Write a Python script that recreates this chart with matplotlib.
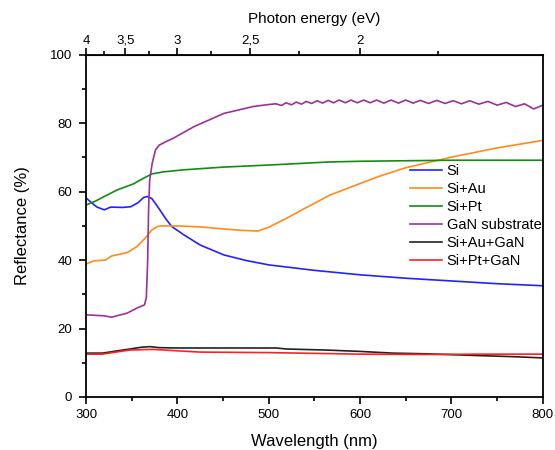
#!/usr/bin/env python3

import numpy as np
import matplotlib
matplotlib.use('Agg')
import matplotlib.pyplot as plt
from matplotlib.ticker import MultipleLocator

plt.rcParams['font.family'] = ['Liberation Sans', 'DejaVu Sans']

# Reflectance spectra (wavelength nm, reflectance %)
wl_si = [300, 305, 312, 320, 327, 340, 349, 357, 363, 367, 372, 378, 388, 394,
         407, 425, 451, 475, 500, 550, 600, 650, 700, 750, 800]
r_si = [58.2, 57.0, 55.5, 54.7, 55.5, 55.4, 55.6, 56.8, 58.3, 58.6, 58.0, 55.8,
        51.8, 49.8, 47.4, 44.4, 41.5, 39.9, 38.6, 37.0, 35.7, 34.7, 33.9, 33.1, 32.5]

wl_au = [300, 309, 321, 328, 345, 356, 365, 372, 378, 383, 400, 425, 451, 470,
         488, 500, 520, 540, 567, 600, 622, 650, 687, 700, 750, 800]
r_au = [38.9, 39.8, 40.0, 41.2, 42.2, 44.0, 46.5, 48.8, 49.8, 50.0, 50.0, 49.7,
        49.1, 48.7, 48.5, 49.6, 52.3, 55.2, 59.0, 62.4, 64.6, 67.0, 69.3, 70.1,
        72.8, 75.0]

wl_pt = [300, 310, 320, 334, 352, 362, 372, 385, 407, 451, 500, 567, 600, 700, 800]
r_pt = [56.1, 57.2, 58.6, 60.5, 62.3, 63.8, 65.2, 65.8, 66.4, 67.2, 67.8, 68.7,
        68.9, 69.2, 69.2]

wl_gan = [300, 320, 328, 345, 356, 364, 366, 367.5, 368.5, 369.7, 372.5, 376, 380,
          385, 396, 418, 451, 483, 500,
          508, 514, 519, 525, 530, 536, 541, 547, 553, 559, 565, 571, 577, 584,
          590, 597, 604, 611, 618, 626, 634, 642, 650, 658, 666, 675, 684, 693,
          702, 711, 720, 730, 740, 750, 760, 770, 780, 790, 800]
r_gan = [24.0, 23.7, 23.3, 24.5, 26.0, 26.9, 29.0, 40.0, 55.0, 63.4, 68.4, 72.2,
         73.6, 74.3, 75.7, 79.0, 82.9, 84.9, 85.5,
         85.7, 85.2, 86.0, 85.4, 86.2, 85.6, 86.4, 85.8, 86.6, 85.9, 86.7, 86.0,
         86.8, 86.0, 86.8, 86.0, 86.8, 86.0, 86.8, 85.9, 86.8, 85.9, 86.8, 85.9,
         86.7, 85.8, 86.7, 85.8, 86.6, 85.7, 86.6, 85.6, 86.4, 85.3, 86.1, 84.9,
         85.7, 84.2, 85.3]

wl_au_gan = [300, 318, 335, 348, 360, 370, 380, 399, 508, 520, 563, 600, 636, 673,
             727, 764, 800]
r_au_gan = [12.8, 12.8, 13.5, 14.0, 14.5, 14.7, 14.4, 14.3, 14.3, 14.0, 13.7, 13.3,
            12.8, 12.6, 12.1, 11.8, 11.4]

wl_pt_gan = [300, 318, 335, 348, 373, 399, 425, 501, 600, 673, 727, 800]
r_pt_gan = [12.5, 12.5, 13.2, 13.7, 13.9, 13.5, 13.1, 12.95, 12.5, 12.4, 12.5, 12.5]

ev_ticks = [4, 3.5, 3, 2.5, 2]
ev_labels = ['4', '3,5', '3', '2,5', '2']
ev_minor = [3.75, 3.25, 2.75, 2.25, 1.75]

fig = plt.figure(figsize=(5.55, 4.5), dpi=100)
ax = fig.add_axes([0.155, 0.118, 0.823, 0.760])

lw = 1.2
ax.plot(wl_si, r_si, color='#2222ff', lw=lw, label='Si')
ax.plot(wl_au, r_au, color='#ff8c1a', lw=lw, label='Si+Au')
ax.plot(wl_pt, r_pt, color='#128c12', lw=lw, label='Si+Pt')
ax.plot(wl_gan, r_gan, color='#9a329a', lw=lw, label='GaN substrate')
ax.plot(wl_au_gan, r_au_gan, color='#222222', lw=lw, label='Si+Au+GaN')
ax.plot(wl_pt_gan, r_pt_gan, color='#ff2020', lw=lw, label='Si+Pt+GaN')

ax.set_xlim(300, 800)
ax.set_ylim(0, 100)
ax.xaxis.set_major_locator(MultipleLocator(100))
ax.xaxis.set_minor_locator(MultipleLocator(50))
ax.yaxis.set_major_locator(MultipleLocator(20))
ax.yaxis.set_minor_locator(MultipleLocator(10))
ax.tick_params(which='both', direction='out', width=1.2, labelsize=9.5,
               colors='black', pad=4)
ax.tick_params(which='major', length=5)
ax.tick_params(which='minor', length=3)
ax.tick_params(axis='y', pad=5)
for sp in ax.spines.values():
    sp.set_linewidth(1.3)

ax.set_xlabel('Wavelength (nm)', fontsize=12, labelpad=9)
ax.set_ylabel('Reflectance (%)', fontsize=12, labelpad=14)


def to_ev(x):
    with np.errstate(divide='ignore'):
        return 1200.0 / np.asarray(x, dtype=float)


top = ax.secondary_xaxis('top', functions=(to_ev, to_ev))
top.set_xticks(ev_ticks)
top.set_xticklabels(ev_labels)
top.set_xticks(ev_minor, minor=True)
top.tick_params(which='both', direction='out', width=1.2, labelsize=9.5, pad=1)
top.tick_params(which='major', length=5)
top.tick_params(which='minor', length=3)
top.set_xlabel('Photon energy (eV)', fontsize=11, labelpad=8)

ax.legend(loc='upper left', bbox_to_anchor=(0.71, 0.68), frameon=False,
          fontsize=10.5, borderpad=0, borderaxespad=0, handlelength=2.2,
          handletextpad=0.3, labelspacing=0.27)

fig.savefig('out.png', dpi=100)
